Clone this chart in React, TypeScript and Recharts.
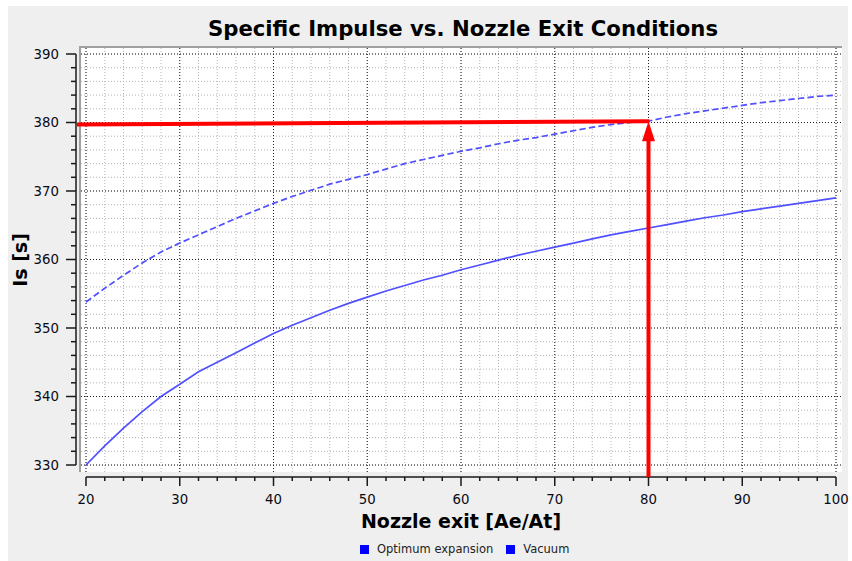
import React from 'react'
import { LineChart, Line, XAxis, YAxis, CartesianGrid, ReferenceLine } from 'recharts'

// nozzle area ratio Ae/At, sampled every 2
const areaRatio = [
  20, 22, 24, 26, 28, 30, 32, 34, 36, 38, 40, 42, 44, 46, 48, 50, 52, 54, 56, 58, 60,
  62, 64, 66, 68, 70, 72, 74, 76, 78, 80, 82, 84, 86, 88, 90, 92, 94, 96, 98, 100,
]

// specific impulse [s]
const optimumIsp = [
  330.0, 332.8, 335.4, 337.8, 340.0, 341.8, 343.6, 345.0, 346.4, 347.8, 349.2, 350.4,
  351.5, 352.6, 353.6, 354.5, 355.4, 356.2, 357.0, 357.7, 358.5, 359.2, 359.9, 360.6,
  361.2, 361.8, 362.4, 363.0, 363.6, 364.1, 364.6, 365.1, 365.6, 366.1, 366.5, 367.0,
  367.4, 367.8, 368.2, 368.6, 369.0,
]
const vacuumIsp = [
  353.8, 355.8, 357.7, 359.5, 361.1, 362.4, 363.6, 364.8, 366.0, 367.1, 368.2, 369.2,
  370.1, 371.0, 371.7, 372.4, 373.2, 374.0, 374.6, 375.2, 375.8, 376.3, 376.9, 377.4,
  377.8, 378.3, 378.8, 379.3, 379.7, 380.0, 380.2, 380.8, 381.3, 381.7, 382.1, 382.5,
  382.9, 383.2, 383.5, 383.8, 384.0,
]

const seriesNames = ['Optimum expansion', 'Vacuum']

const xMajorTicks = [20, 30, 40, 50, 60, 70, 80, 90, 100]
const xMinorTicks = [
  20, 22, 24, 26, 28, 30, 32, 34, 36, 38, 40, 42, 44, 46, 48, 50, 52, 54, 56, 58, 60,
  62, 64, 66, 68, 70, 72, 74, 76, 78, 80, 82, 84, 86, 88, 90, 92, 94, 96, 98, 100,
]
const yMajorTicks = [330, 340, 350, 360, 370, 380, 390]
const yMinorTicks = [
  330, 332, 334, 336, 338, 340, 342, 344, 346, 348, 350, 352, 354, 356, 358, 360,
  362, 364, 366, 368, 370, 372, 374, 376, 378, 380, 382, 384, 386, 388, 390,
]

// design point read-out: Ae/At = 80 on the vacuum curve
const designRatio = 80
const designIsp = vacuumIsp[areaRatio.indexOf(designRatio)]
const readoutStartIsp = 379.7

const rows = areaRatio.map((ratio, i) => ({
  ratio,
  optimum: optimumIsp[i],
  vacuum: vacuumIsp[i],
}))

const FONT = '"DejaVu Sans", Verdana, sans-serif'
const AXIS = '#1a1a1a'
const CURVE = 'rgb(80, 80, 255)'

function XTick(props: any) {
  const { x, y, payload } = props
  const major = xMajorTicks.includes(payload.value)
  return (
    <g>
      <line x1={x} x2={x} y1={y + 5} y2={y + (major ? 14 : 9)} stroke={AXIS} strokeWidth={1.5} />
      {major && (
        <text x={x} y={y + 32} textAnchor="middle" fontFamily={FONT} fontSize={13.3} fill="#0a0a14">
          {payload.value}
        </text>
      )}
    </g>
  )
}

function YTick(props: any) {
  const { x, y, payload } = props
  const major = yMajorTicks.includes(payload.value)
  return (
    <g>
      <line x1={x - (major ? 15 : 10)} x2={x - 5} y1={y} y2={y} stroke={AXIS} strokeWidth={1.5} />
      {major && (
        <text x={x - 22} y={y} dy="0.36em" textAnchor="end" fontFamily={FONT} fontSize={13.3} fill="#0a0a14">
          {payload.value}
        </text>
      )}
    </g>
  )
}

export default function App() {
  return (
    <div style={{ position: 'absolute', left: 0, top: 0, width: 852, height: 561, background: '#fff' }}>
      <div style={{ position: 'absolute', left: 8, top: 6, width: 840, height: 555, background: '#efefef' }} />
      {/* sunken canvas frame */}
      <div
        style={{
          position: 'absolute',
          left: 79,
          top: 46,
          width: 763,
          height: 426,
          boxSizing: 'border-box',
          borderTop: '2px solid #a0a0a0',
          borderLeft: '2px solid #a0a0a0',
        }}
      />
      <LineChart
        width={852}
        height={561}
        data={rows}
        margin={{ top: 48, right: 10, bottom: 59, left: 41 }}
        style={{ position: 'absolute', left: 0, top: 0 }}
      >
        <CartesianGrid
          fill="#fff"
          stroke="#b4b4b4"
          strokeDasharray="1 2"
          verticalValues={xMinorTicks}
          horizontalValues={yMinorTicks}
        />
        <CartesianGrid
          stroke="#202020"
          strokeDasharray="1 2"
          verticalValues={xMajorTicks}
          horizontalValues={yMajorTicks}
        />
        <XAxis
          dataKey="ratio"
          type="number"
          domain={[20, 100]}
          ticks={xMinorTicks}
          interval={0}
          padding={{ left: 5, right: 6 }}
          axisLine={false}
          tickLine={false}
          tickSize={0}
          tickMargin={0}
          height={30}
          tick={<XTick />}
        />
        <YAxis
          type="number"
          domain={[330, 390]}
          ticks={yMinorTicks}
          interval={0}
          padding={{ top: 6, bottom: 7 }}
          axisLine={false}
          tickLine={false}
          tickSize={0}
          tickMargin={0}
          width={40}
          tick={<YTick />}
        />
        {/* axis backbones, drawn just outside the canvas */}
        <ReferenceLine
          segment={[{ x: 20, y: 330 }, { x: 100, y: 330 }]}
          ifOverflow="visible"
          shape={(p: any) => (
            <line x1={p.x1} x2={p.x2} y1={p.y1 + 12} y2={p.y2 + 12} stroke={AXIS} strokeWidth={1.5} />
          )}
        />
        <ReferenceLine
          segment={[{ x: 20, y: 330 }, { x: 20, y: 390 }]}
          ifOverflow="visible"
          shape={(p: any) => (
            <line x1={p.x1 - 10} x2={p.x2 - 10} y1={p.y1} y2={p.y2} stroke={AXIS} strokeWidth={1.5} />
          )}
        />
        <Line
          dataKey="optimum"
          name={seriesNames[0]}
          type="linear"
          stroke={CURVE}
          strokeWidth={1.7}
          dot={false}
          activeDot={false}
          isAnimationActive={false}
        />
        <Line
          dataKey="vacuum"
          name={seriesNames[1]}
          type="linear"
          stroke={CURVE}
          strokeWidth={1.7}
          strokeDasharray="6.4 3.2"
          dot={false}
          activeDot={false}
          isAnimationActive={false}
        />
        {/* read-out of the design point */}
        <ReferenceLine
          segment={[{ x: 20, y: readoutStartIsp }, { x: designRatio, y: designIsp }]}
          ifOverflow="visible"
          shape={(p: any) => (
            <line x1={p.x1 - 9} x2={p.x2 + 1} y1={p.y1} y2={p.y2} stroke="#ff0000" strokeWidth={4} />
          )}
        />
        <ReferenceLine
          segment={[{ x: designRatio, y: 330 }, { x: designRatio, y: designIsp }]}
          ifOverflow="visible"
          shape={(p: any) => (
            <g>
              <line x1={p.x1} x2={p.x2} y1={p.y1 + 12} y2={p.y2 + 17} stroke="#ff0000" strokeWidth={4} />
              <polygon
                points={`${p.x2},${p.y2} ${p.x2 - 6.5},${p.y2 + 20} ${p.x2 + 6.5},${p.y2 + 20}`}
                fill="#ff0000"
              />
            </g>
          )}
        />
      </LineChart>
      <svg
        width={852}
        height={561}
        style={{ position: 'absolute', left: 0, top: 0, pointerEvents: 'none' }}
      >
        <text x={463} y={35.5} textAnchor="middle" fontFamily={FONT} fontWeight="bold" fontSize={21.2} fill="#000">
          Specific Impulse vs. Nozzle Exit Conditions
        </text>
        <text x={461} y={527.5} textAnchor="middle" fontFamily={FONT} fontWeight="bold" fontSize={19} fill="#000">
          Nozzle exit [Ae/At]
        </text>
        <text
          transform="translate(27 260) rotate(-90)"
          textAnchor="middle"
          fontFamily={FONT}
          fontWeight="bold"
          fontSize={19}
          fill="#000"
        >
          Is [s]
        </text>
      </svg>
      <div
        style={{
          position: 'absolute',
          left: 360,
          top: 542,
          display: 'flex',
          alignItems: 'center',
          gap: 13,
          fontFamily: FONT,
          fontSize: 11.5,
          color: '#222',
        }}
      >
        {seriesNames.map((name) => (
          <div key={name} style={{ display: 'flex', alignItems: 'center' }}>
            <span style={{ width: 9, height: 9, background: '#0000ff', marginRight: 8 }} />
            <span>{name}</span>
          </div>
        ))}
      </div>
    </div>
  )
}
